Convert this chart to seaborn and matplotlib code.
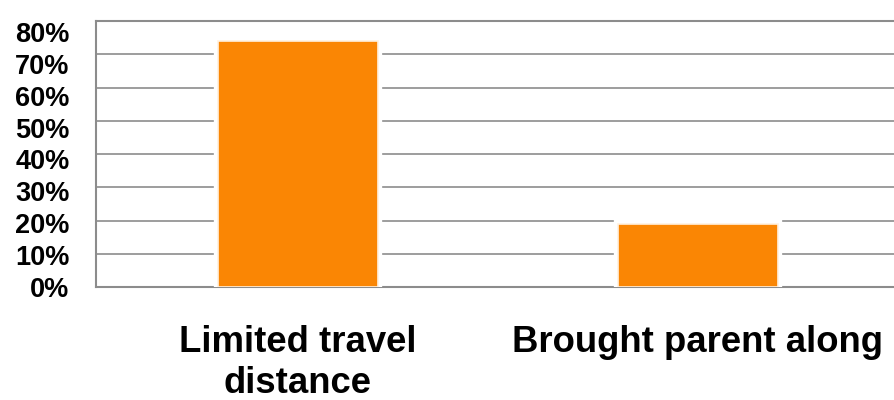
import matplotlib
matplotlib.use("Agg")
import matplotlib.pyplot as plt
import matplotlib.patheffects as pe
import pandas as pd
import seaborn as sns

# Survey responses (share of respondents)
categories = ["Limited travel\ndistance", "Brought parent along"]
shares = [74, 19]
y_ticks = [0, 10, 20, 30, 40, 50, 60, 70, 80]
y_tick_labels = [f"{v}%" for v in y_ticks]

bar_color = "#FA8604"
grid_color = "#8C8C8C"

df = pd.DataFrame({"category": categories, "share": shares})

sns.set_theme(style="white")
plt.rcParams["font.family"] = ["Liberation Sans", "DejaVu Sans"]

fig = plt.figure(figsize=(8.95, 4.0), dpi=100)
ax = fig.add_axes([96 / 895, 1 - 287 / 400, 799 / 895, 266 / 400])

sns.barplot(data=df, x="category", y="share", color=bar_color,
            saturation=1, width=0.4, ax=ax, zorder=3)

for patch in ax.patches:
    patch.set_edgecolor("#FFF1E0")
    patch.set_linewidth(1.2)
    patch.set_path_effects([
        pe.SimplePatchShadow(offset=(1.5, -2), shadow_rgbFace="#777777", alpha=0.3),
        pe.Stroke(linewidth=6, foreground="white"),
        pe.Normal(),
    ])

ax.set_xlim(-0.505, 1.4925)
ax.set_ylim(0, 80)
ax.set_yticks(y_ticks)
ax.yaxis.grid(True, color=grid_color, linewidth=1.2, zorder=0)
ax.set_axisbelow(True)
ax.tick_params(axis="y", left=False, right=False, length=0, labelleft=False)
ax.tick_params(axis="x", bottom=False, length=0, pad=27)
for lbl in ax.get_xticklabels():
    lbl.set_fontsize(26.3)
    lbl.set_fontweight("bold")
    lbl.set_color("black")
    lbl.set_linespacing(1.25)
ax.set_xlabel("")
ax.set_ylabel("")

for side in ["left", "bottom", "top"]:
    ax.spines[side].set_visible(True)
    ax.spines[side].set_color(grid_color)
    ax.spines[side].set_linewidth(1.5)
ax.spines["right"].set_visible(False)

# Percentage labels on a companion axis, spaced slightly tighter than the grid
lab = ax.twinx()
lab.set_ylim(0.31, 83.44)
lab.set_yticks(y_ticks)
lab.set_yticklabels(y_tick_labels, fontsize=19.5, fontweight="bold", color="black")
lab.yaxis.set_ticks_position("left")
lab.yaxis.set_label_position("left")
lab.tick_params(axis="y", left=False, right=False, length=0, labelleft=True,
                labelright=False, pad=19)
lab.grid(False)
for s in lab.spines.values():
    s.set_visible(False)

fig.savefig("out.png", dpi=100)
